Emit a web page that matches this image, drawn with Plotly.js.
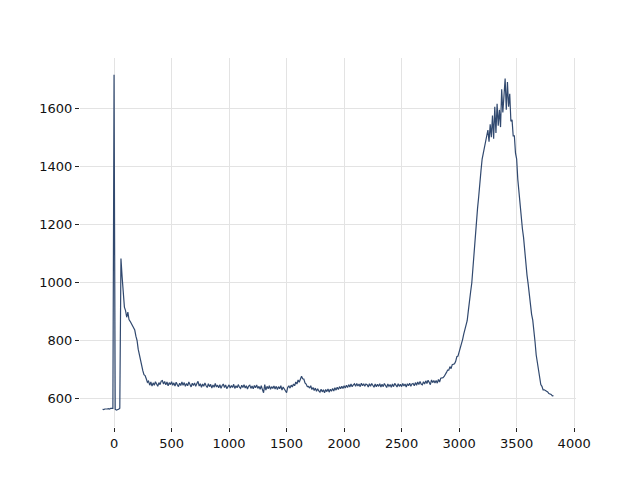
<!DOCTYPE html>
<html>
<head>
<meta charset="utf-8">
<script src="https://cdn.plot.ly/plotly-3.0.1.min.js"></script>
<style>html,body{margin:0;padding:0;background:#fff;}#chart{width:640px;height:480px;}</style>
</head>
<body>
<div id="chart"></div>
<script>
// Sampling grid of the signal (x from -100 in steps of 10)
var xStart = -100;
var xStep = 10;

// Signal values, one row per 100 x-units
var signalA = [
  563,562,564,563,564,565,564,566,565,566,
  1715,563,560,561,563,567,1082,1020,960,915,
  903,880,898,872,866,858,852,840,836,815,
  800,770,748,727,708,696,682,679,668,656,
  660,646,657,643,654,646,658,648,642,655,
  648,660,662,650,659,647,657,644,655,648,
  658,646,654,643,656,648,641,653,645,657,
  646,655,642,652,644,657,647,640,653,645,
  654,642,652,659,643,651,639,650,642,654,
  644,638,651,641,649,636,647,639,652,640,
  646,637,648,635,645,650,638,647,634,644
];
var signalB = [
  647,636,645,638,649,635,644,637,648,639,
  635,646,638,648,636,644,633,643,646,635,
  643,634,645,637,647,635,642,632,644,631,
  620,648,629,642,634,644,632,641,635,643,
  633,642,631,641,634,644,629,640,632,623,
  620,639,643,636,646,640,650,644,657,650,
  664,656,670,677,668,667,654,650,641,642,
  636,644,631,638,628,636,625,634,626,622,
  632,623,630,620,631,624,633,622,632,625,
  635,626,637,629,639,631,641,634,642,635
];
var signalC = [
  644,636,646,638,648,640,650,641,647,651,
  642,652,643,650,641,653,644,651,642,650,
  648,640,651,642,652,643,639,650,641,649,
  642,651,640,649,641,652,643,638,650,642,
  648,639,650,641,652,643,640,651,642,649,
  641,652,643,650,640,651,644,653,642,650,
  652,644,655,646,657,648,659,650,647,658,
  650,661,652,663,653,648,664,655,662,654,
  662,653,666,657,670,670,672,676,686,690,
  698,698,710,703,717,720,720,728,744,746
];
var signalD = [
  760,770,792,803,822,838,857,868,902,928,
  968,998,1055,1105,1165,1195,1255,1295,1355,1385,
  1425,1445,1475,1485,1505,1525,1485,1545,1500,1575,
  1495,1605,1515,1615,1540,1595,1535,1665,1585,1645,
  1702,1595,1690,1605,1650,1555,1560,1505,1505,1445,
  1425,1355,1305,1280,1235,1185,1155,1105,1085,1025,
  995,955,930,890,870,815,795,750,725,690,
  668,648,642,630,630,628,624,623,617,616,
  614,609,610
];

var yVals = signalA.concat(signalB, signalC, signalD);
var xVals = yVals.map(function (_, i) { return xStart + i * xStep; });

var xTicks = [0, 500, 1000, 1500, 2000, 2500, 3000, 3500, 4000];
var yTicks = [600, 800, 1000, 1200, 1400, 1600];

var trace = {
  x: xVals,
  y: yVals,
  type: 'scatter',
  mode: 'lines',
  line: {color: '#31496f', width: 1.2},
  hoverinfo: 'skip'
};

var axisCommon = {
  showline: false,
  zeroline: false,
  showgrid: true,
  gridcolor: '#e3e3e3',
  gridwidth: 1,
  ticks: 'outside',
  ticklen: 4,
  tickwidth: 1,
  tickcolor: '#222',
  tickfont: {family: 'DejaVu Sans', size: 13, color: '#111'}
};

var layout = {
  width: 640,
  height: 480,
  margin: {l: 80, r: 64, t: 58, b: 53},
  paper_bgcolor: '#fff',
  plot_bgcolor: '#fff',
  showlegend: false,
  xaxis: Object.assign({}, axisCommon, {
    range: [-296, 4016],
    tickvals: xTicks,
    ticktext: xTicks.map(String)
  }),
  yaxis: Object.assign({}, axisCommon, {
    range: [502, 1773],
    tickvals: yTicks,
    ticktext: yTicks.map(String)
  })
};

Plotly.newPlot('chart', [trace], layout, {displayModeBar: false, staticPlot: true});
</script>
</body>
</html>
